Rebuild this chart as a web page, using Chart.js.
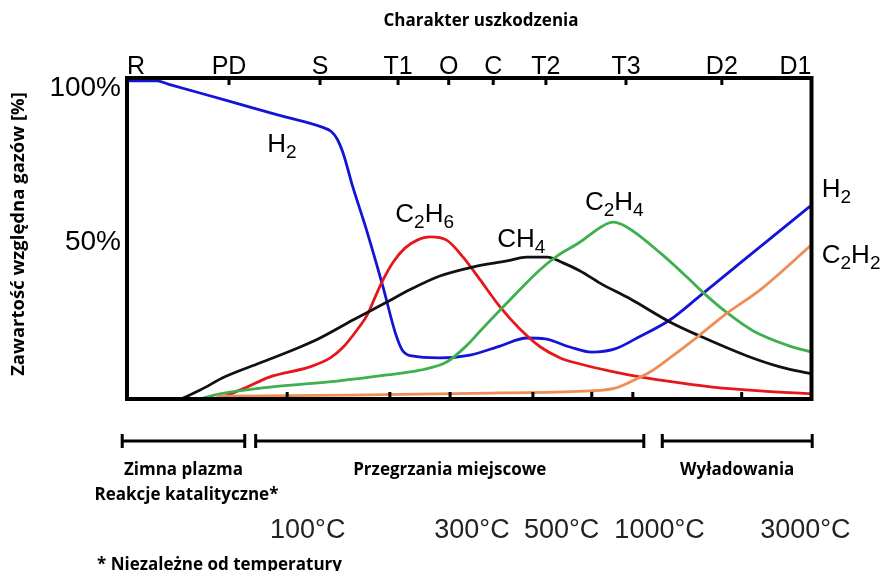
<!DOCTYPE html>
<html lang="pl">
<head>
  <meta charset="UTF-8" />
  <title>Charakter uszkodzenia</title>
  <script src="https://cdn.jsdelivr.net/npm/chart.js"></script>
  <style>
    body { margin: 0; background: #fff; }
    #wrap { width: 886px; height: 571px; }
  </style>
</head>
<body>
  <div id="wrap"><canvas id="chart" width="886" height="571"></canvas></div>
  <script>
    // x: position along the fault scale (0 = R, 100 = D1), y: relative gas content [%]
    const h2   = [[0,99.1],[4.4,99.1],[6,98.1],[14.9,92.8],[22,88.5],[28.6,84.6],[29.8,83.4],[30.7,81.0],[31.6,76.4],
                  [33.0,66.0],[34.9,53.3],[37.4,34.9],[39.2,20.6],[40.2,15.3],[41.6,13.4],[45.7,12.8],[50.1,13.7],
                  [54.5,16.5],[58.4,19.0],[61.1,18.7],[64.7,16.2],[67.9,14.6],[71.3,15.6],[74.5,19.0],[79.3,24.6],
                  [83.7,32.1],[89.6,42.4],[100,60.4]];
    const c2h6 = [[13.6,0.3],[17.2,3.4],[20.9,6.9],[26.7,10.0],[29.7,12.8],[31.6,16.2],[33.6,21.5],[35.1,26.2],
                  [36.2,31.5],[37.4,37.1],[38.9,42.7],[40.6,47.0],[42.4,49.5],[44.3,50.5],[46.7,49.5],[49.1,44.2],
                  [51.6,37.1],[54.5,28.7],[57.4,21.8],[60.4,16.2],[63.3,12.8],[66.2,10.9],[70.6,8.7],[74.9,6.9],
                  [80.8,5.0],[85.6,3.7],[92.5,2.5],[100,1.6]];
    const ch4  = [[8.2,0.3],[10.7,2.8],[14.3,6.9],[19.4,11.2],[25.3,16.2],[28.2,19.0],[33.0,24.6],[38.0,30.2],
                  [41.3,34.0],[45.7,38.3],[50.5,41.1],[55.5,43.0],[58.4,44.2],[61.4,44.2],[63.7,42.4],[66.2,39.9],
                  [69.1,36.1],[73.5,31.2],[79.3,24.0],[83.7,19.6],[90.6,13.4],[95.4,10.0],[100,7.8]];
    const c2h4 = [[11.1,0.3],[13.6,1.6],[20.9,3.7],[30.7,5.6],[38.0,7.5],[42.8,9.0],[46.7,11.5],[49.7,16.8],
                  [51.6,21.2],[55.5,29.9],[60.3,40.2],[62.8,44.5],[66.2,48.9],[69.5,53.9],[71.0,55.1],[73.0,53.6],
                  [77.9,45.5],[81.8,38.0],[84.1,33.3],[87.7,26.8],[91.5,21.2],[96.4,16.8],[100,14.6]];
    const c2h2 = [[13.1,0.9],[32.6,1.2],[54.5,1.9],[67.6,2.5],[71.3,3.4],[73.5,5.3],[76.4,8.4],[79.3,12.8],
                  [83.3,19.3],[87.7,26.8],[92.5,34.0],[100,48.0]];

    const topTicks = [0, 14.9, 28.2, 39.6, 47.0, 53.5, 61.2, 72.9, 86.9, 100];
    const topLabels = ['R', 'PD', 'S', 'T1', 'O', 'C', 'T2', 'T3', 'D2', 'D1'];
    const bottomTicks = [23.4, 38.4, 47.2, 59.3, 67.9, 73.9, 89.8];
    const yTicks = [100, 50];
    const yTickLabels = ['100%', '50%'];

    // formula labels next to the curves: [text, x, y] anchored at the left baseline
    const gasLabels = [['H2', 20.5, 77.0], ['C2H6', 39.2, 55.1], ['CH4', 54.1, 47.4],
                       ['C2H4', 66.9, 58.9], ['H2', 101.5, 62.9], ['C2H2', 101.5, 42.4]];

    const ranges = [[-0.7, 17.2], [18.8, 75.5], [78.2, 100.1]];
    const rangeLabels = [['Zimna plazma', 'Reakcje katalityczne*'], ['Przegrzania miejscowe'], ['Wyładowania']];
    const temps = ['100°C', '300°C', '500°C', '1000°C', '3000°C'];
    const tempPos = [26.4, 50.4, 63.5, 77.8, 99.1];

    const SANS = '"Liberation Sans", Arial, sans-serif';
    const BOLD = 'bold 17px "Open Sans", sans-serif';

    function formula(ctx, text, x, y, size) {
      // digits are drawn as subscripts
      let cx = x;
      for (const ch of text) {
        const sub = /\d/.test(ch);
        ctx.font = (sub ? Math.round(size * 0.74) : size) + 'px ' + SANS;
        ctx.fillText(ch, cx, sub ? y + 6 : y);
        cx += ctx.measureText(ch).width;
      }
    }

    const decor = {
      id: 'decor',
      afterDatasetsDraw(chart) {
        const { ctx, chartArea: a, scales: { x, y } } = chart;
        ctx.save();
        ctx.strokeStyle = '#000';
        ctx.fillStyle = '#000';

        // frame
        ctx.lineWidth = 4;
        ctx.strokeRect(a.left, a.top, a.right - a.left, a.bottom - a.top);

        // inner tick marks
        ctx.lineWidth = 3;
        ctx.beginPath();
        topTicks.forEach(v => { const px = x.getPixelForValue(v); ctx.moveTo(px, a.top); ctx.lineTo(px, a.top + 7); });
        bottomTicks.forEach(v => { const px = x.getPixelForValue(v); ctx.moveTo(px, a.bottom); ctx.lineTo(px, a.bottom - 7); });
        ctx.stroke();

        // fault-type labels on top
        ctx.font = '25px ' + SANS;
        ctx.textBaseline = 'alphabetic';
        topLabels.forEach((t, i) => {
          ctx.textAlign = i === 0 ? 'left' : (i === topLabels.length - 1 ? 'right' : 'center');
          ctx.fillText(t, x.getPixelForValue(topTicks[i]), a.top - 4);
        });

        // y tick labels
        ctx.font = '28px ' + SANS;
        ctx.textAlign = 'right';
        ctx.textBaseline = 'middle';
        yTicks.forEach((v, i) => ctx.fillText(yTickLabels[i], a.left - 6, y.getPixelForValue(v) + (v === 100 ? 10 : 4)));

        // gas formulas
        ctx.textAlign = 'left';
        ctx.textBaseline = 'alphabetic';
        gasLabels.forEach(([t, gx, gy]) => formula(ctx, t, x.getPixelForValue(gx), y.getPixelForValue(gy), 26));

        // titles
        ctx.font = BOLD;
        ctx.textAlign = 'center';
        ctx.fillText('Charakter uszkodzenia', 481, 26);
        ctx.save();
        ctx.translate(24, 234);
        ctx.rotate(-Math.PI / 2);
        ctx.font = 'bold 18.5px "Open Sans", sans-serif';
        ctx.fillText('Zawartość względna gazów [%]', 0, 0);
        ctx.restore();

        // range brackets
        const by = a.bottom + 42;
        ranges.forEach(([s, e], i) => {
          const x0 = x.getPixelForValue(s), x1 = x.getPixelForValue(e);
          ctx.lineWidth = 3;
          ctx.beginPath();
          ctx.moveTo(x0, by); ctx.lineTo(x1, by);
          ctx.moveTo(x0, by - 7); ctx.lineTo(x0, by + 7);
          ctx.moveTo(x1, by - 7); ctx.lineTo(x1, by + 7);
          ctx.stroke();
          ctx.font = BOLD;
          rangeLabels[i].forEach((t, j) => {
            const off = j === 0 ? 0 : 3;
            ctx.fillText(t, (x0 + x1) / 2 + off, a.bottom + 76 + j * 25);
          });
        });

        // temperatures
        ctx.font = '27px ' + SANS;
        ctx.fillStyle = '#222';
        temps.forEach((t, i) => ctx.fillText(t, x.getPixelForValue(tempPos[i]), a.bottom + 139));

        // footnote
        ctx.fillStyle = '#000';
        ctx.font = BOLD;
        ctx.textAlign = 'left';
        ctx.fillText('* Niezależne od temperatury', 97, a.bottom + 171);
        ctx.restore();
      }
    };

    const line = (data, color) => ({
      data: data.map(([x, y]) => ({ x, y })),
      borderColor: color,
      borderWidth: 2.8,
      pointRadius: 0,
      fill: false,
      cubicInterpolationMode: 'monotone'
    });

    new Chart(document.getElementById('chart'), {
      type: 'line',
      data: {
        datasets: [
          line(c2h2, '#ef8d55'),
          line(c2h4, '#3eb04e'),
          line(ch4, '#111111'),
          line(c2h6, '#e5171c'),
          line(h2, '#1414d6')
        ]
      },
      options: {
        responsive: false,
        animation: false,
        layout: { padding: { left: 127, right: 74.5, top: 78, bottom: 172 } },
        plugins: { legend: { display: false }, tooltip: { enabled: false } },
        scales: {
          x: { type: 'linear', min: 0, max: 100, display: false },
          y: { min: 0, max: 100, display: false }
        }
      },
      plugins: [decor]
    });
  </script>
</body>
</html>
